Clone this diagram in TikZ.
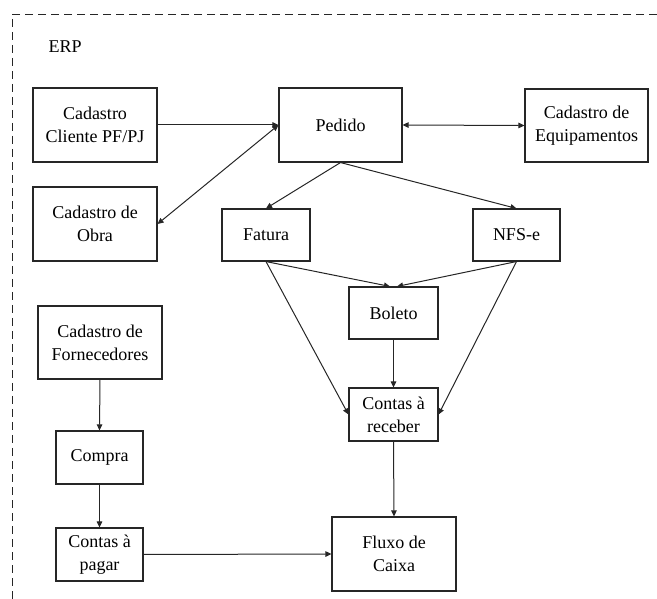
\documentclass[tikz,border=0pt]{standalone}
\usepackage{fontspec}
\setmainfont{Liberation Serif}
\usetikzlibrary{arrows.meta}
\begin{document}
\begin{tikzpicture}[x=1pt,y=-1pt,
  tip/.tip={Triangle[length=6pt,width=5.5pt]},
  box/.style={draw=black!85,line width=1.1pt,align=center,inner sep=0pt,
    font=\fontsize{18}{23}\selectfont},
  conn/.style={draw=black!85,line width=1pt,-tip},
  both/.style={draw=black!85,line width=1pt,tip-tip},
  frame/.style={draw=black!85,line width=0.9pt,dash pattern=on 8pt off 5pt}]
\useasboundingbox (0,0) rectangle (657,599);
% dashed ERP boundary (top and left sides)
\coordinate (fr1) at (657,14);
\coordinate (fr2) at (12,14);
\coordinate (fr3) at (12,599);
\draw[frame] (fr1) -- (fr2) -- (fr3);
\node[font=\fontsize{18}{23}\selectfont,anchor=base west] (erp) at (45,53) {ERP};
% boxes
\node[box,minimum width=124,minimum height=74] (cli)  at (95,125)    {Cadastro\\Cliente PF/PJ};
\node[box,minimum width=123,minimum height=74] (ped)  at (340.5,125) {Pedido};
\node[box,minimum width=123,minimum height=73] (equ)  at (586.5,125.5) {Cadastro de\\Equipamentos};
\node[box,minimum width=124,minimum height=74] (obra) at (95,224)    {Cadastro de\\Obra};
\node[box,minimum width=88,minimum height=52]  (fat)  at (266,235)   {Fatura};
\node[box,minimum width=87,minimum height=52]  (nfs)  at (516.5,235) {NFS-e};
\node[box,minimum width=89,minimum height=52]  (bol)  at (393.5,313) {Boleto};
\node[box,minimum width=89,minimum height=53]  (rec)  at (393.5,414.5) {Contas à\\receber};
\node[box,minimum width=124,minimum height=73] (forn) at (100,342.5) {Cadastro de\\Fornecedores};
\node[box,minimum width=87,minimum height=53]  (comp) at (99.5,457.5) {Compra};
\node[box,minimum width=87,minimum height=53]  (pag)  at (99.5,554.5) {Contas à\\pagar};
\node[box,minimum width=124,minimum height=74] (flx)  at (394,554)   {Fluxo de\\Caixa};
% connectors
\draw[conn] (cli.east) -- (ped.west);
\draw[both] (ped.west) -- (obra.east);
\draw[both] (ped.east) -- (equ.west);
\draw[conn] (ped.south) -- (fat.north);
\draw[conn] (ped.south) -- (nfs.north);
\draw[conn] (fat.south) -- ([xshift=-3.5]bol.north);
\draw[conn] (nfs.south) -- ([xshift=3.5]bol.north);
\draw[conn] (fat.south) -- (rec.west);
\draw[conn] (nfs.south) -- (rec.east);
\draw[conn] (bol.south) -- (rec.north);
\draw[conn] (rec.south) -- (flx.north);
\draw[conn] (forn.south) -- (comp.north);
\draw[conn] (comp.south) -- (pag.north);
\draw[conn] (pag.east) -- (flx.west);
\end{tikzpicture}
\end{document}
